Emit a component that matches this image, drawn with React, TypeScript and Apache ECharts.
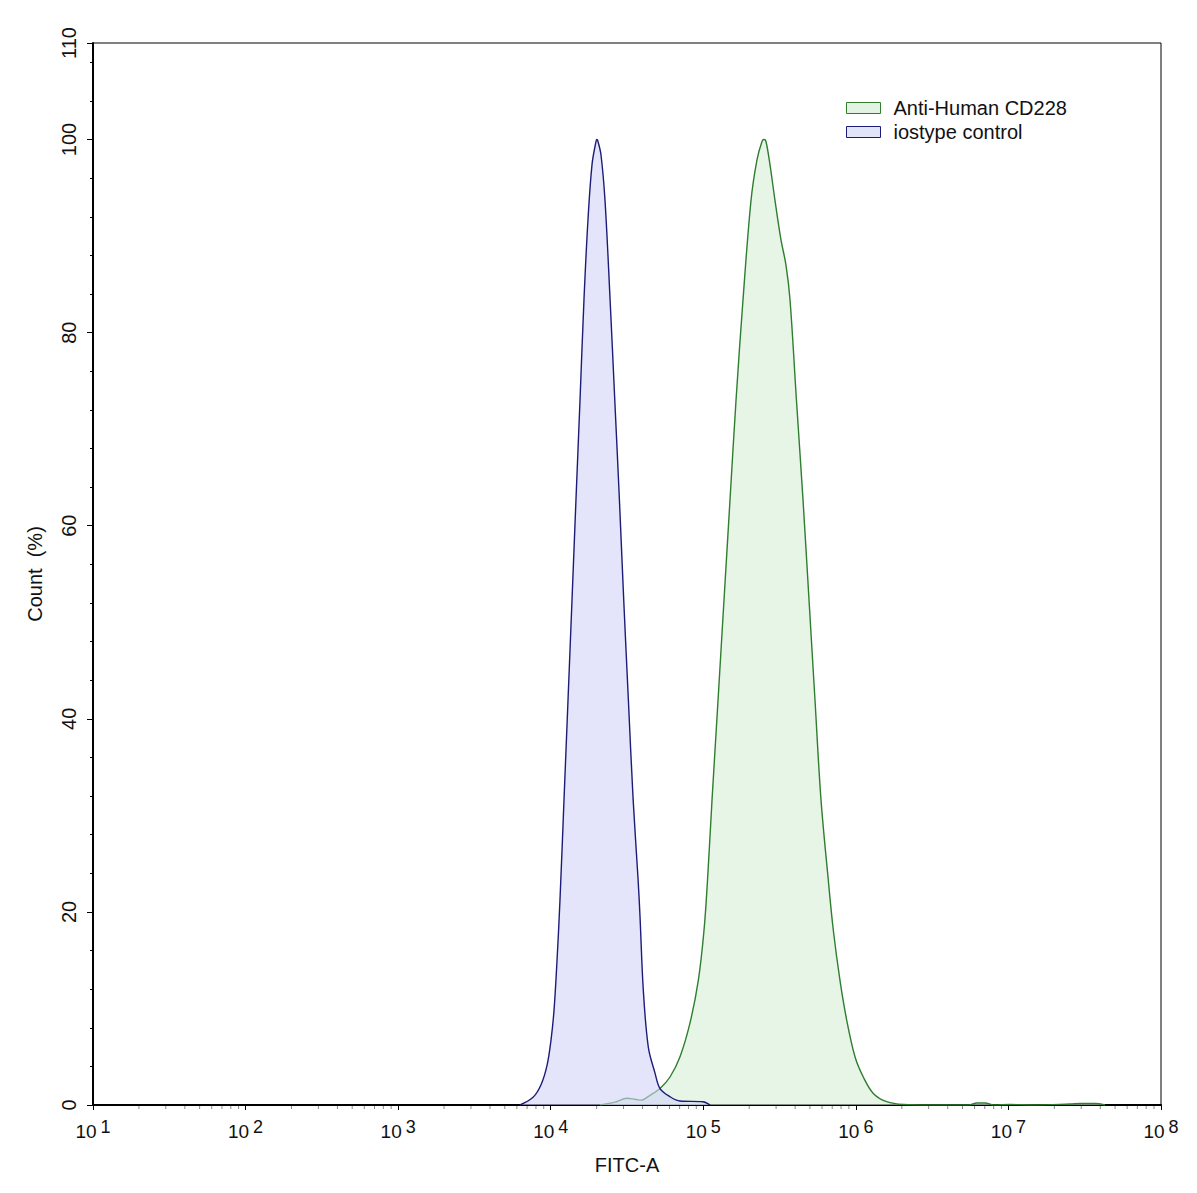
import React, { useEffect, useRef } from "react";
import * as echarts from "echarts";

// isotype control (FITC-A value, count %)
const isoX = [6290, 7660, 8640, 9460, 10040, 10510, 11000, 11500, 12220, 12980, 13790, 14640, 15560, 16520, 17550, 18650, 19810, 20100, 20410, 21360, 22690, 24500, 26300, 28200, 30100, 32300, 34700, 37400, 38490, 40450, 43620, 48270, 52030, 60500, 70390, 99560, 110700];
const isoY = [0, 0.8, 2.1, 4.1, 6.7, 9.8, 15.0, 21.2, 31.6, 41.9, 52.3, 62.7, 73.0, 83.4, 91.7, 97.4, 99.8, 100, 99.8, 98.4, 93.7, 83.4, 73.0, 62.7, 52.3, 41.9, 31.6, 23.3, 19.5, 11.9, 6.0, 3.3, 1.7, 0.86, 0.41, 0.34, 0];

// Anti-Human CD228
const cdX = [21040, 26390, 31620, 35670, 38990, 44740, 52030, 60500, 70390, 81850, 92770, 101100, 106600, 114100, 124900, 136700, 149700, 163900, 182100, 205500, 224900, 242600, 250000, 257600, 273600, 295100, 323100, 348400, 370200, 408000, 450400, 493200, 539900, 591000, 659700, 711700, 787000, 870800, 987000, 1119000, 1301000, 1592000, 2046000, 3060000, 5500000, 6220000, 7020000, 8000000, 10240000, 15000000, 25300000, 30000000, 36900000, 43000000];
const cdY = [0, 0.3, 0.7, 0.6, 0.5, 1.0, 1.7, 2.9, 5.0, 8.5, 12.9, 18.1, 23.3, 31.6, 41.9, 52.3, 62.7, 73.0, 83.4, 93.7, 97.9, 99.8, 100, 99.8, 97.4, 93.7, 89.6, 87.0, 83.4, 73.0, 62.7, 52.3, 41.9, 31.6, 23.3, 18.1, 12.9, 8.8, 5.0, 2.9, 1.2, 0.34, 0.05, 0, 0, 0.2, 0.2, 0, 0.05, 0, 0.1, 0.15, 0.15, 0];

const seriesNames = ["Anti-Human CD228", "iostype control"];
const xMin = 10;
const xMax = 1e8;
const yMax = 110;
const yMajorStep = 20;
const yMinorStep = 4;
// minor log ticks: 2..9 x each decade
const minorMultipliers = [2, 3, 4, 5, 6, 7, 8, 9];
const decades = [1, 2, 3, 4, 5, 6, 7];

const FONT = "Liberation Sans, Arial, sans-serif";

export default function App() {
  const ref = useRef<HTMLDivElement>(null);
  useEffect(() => {
    if (!ref.current) return;
    const chart = echarts.init(ref.current, undefined, { renderer: "svg" });
    const minorTicks: number[][] = [];
    decades.forEach((d) => minorMultipliers.forEach((m) => minorTicks.push([m * Math.pow(10, d), 0])));
    const green = "#2f7d2f";
    const greenFill = "rgba(214,238,214,0.6)";
    const blue = "#1c1c78";
    const blueFill = "rgba(210,212,246,0.6)";
    chart.setOption({
      animation: false,
      backgroundColor: "#ffffff",
      textStyle: { fontFamily: FONT },
      grid: { left: 93, right: 36, top: 43, bottom: 88, show: true, borderColor: "#000", borderWidth: 1, backgroundColor: "transparent" },
      legend: {
        orient: "vertical",
        left: 841,
        top: 93,
        itemWidth: 34,
        itemHeight: 11,
        itemGap: 4,
        icon: "rect",
        textStyle: { fontSize: 20, color: "#111", fontFamily: FONT, padding: [0, 0, 0, 8] },
        data: [
          { name: seriesNames[0], itemStyle: { color: "#e3f3e3", borderColor: green, borderWidth: 1 } },
          { name: seriesNames[1], itemStyle: { color: "#e2e4fa", borderColor: blue, borderWidth: 1 } },
        ],
      },
      xAxis: {
        type: "log",
        logBase: 10,
        min: xMin,
        max: xMax,
        splitNumber: 7,
        name: "FITC-A",
        nameLocation: "middle",
        nameGap: 50,
        nameTextStyle: { fontSize: 20, color: "#111", fontFamily: FONT },
        axisLine: { lineStyle: { color: "#000", width: 2 } },
        axisTick: { show: true, length: 5, lineStyle: { color: "#000", width: 1 } },
        splitLine: { show: false },
        axisLabel: {
          margin: 12,
          formatter: (v: number) => `{b|10}{s|${Math.round(Math.log10(v))}}`,
          rich: {
            b: { fontSize: 19, color: "#111", fontFamily: FONT, padding: [5, 0, 0, 0] },
            s: { fontSize: 18, color: "#111", fontFamily: FONT, padding: [0, 0, 5, 4] },
          },
        },
      },
      yAxis: [
        {
          type: "value",
          min: 0,
          max: yMax,
          interval: yMajorStep,
          name: "Count  (%)",
          nameLocation: "middle",
          nameRotate: 90,
          nameGap: 48,
          nameTextStyle: { fontSize: 20, color: "#111", fontFamily: FONT },
          axisLine: { show: true, lineStyle: { color: "#000", width: 2 } },
          axisTick: { show: true, length: 6, lineStyle: { color: "#000", width: 1 } },
          splitLine: { show: false },
          axisLabel: { rotate: 90, margin: 14, fontSize: 20, color: "#111", fontFamily: FONT, align: "center", verticalAlign: "bottom" },
        },
        {
          type: "value",
          min: 0,
          max: yMax,
          interval: yMinorStep,
          position: "left",
          axisLine: { show: false },
          axisTick: { show: true, length: 3, lineStyle: { color: "#000", width: 1 } },
          axisLabel: { show: false },
          splitLine: { show: false },
        },
      ],
      series: [
        {
          name: seriesNames[0],
          type: "line",
          data: cdX.map((x, i) => [x, cdY[i]]),
          smooth: 0.35,
          symbol: "none",
          lineStyle: { color: green, width: 1.4 },
          itemStyle: { color: green },
          areaStyle: { color: greenFill, opacity: 1 },
          z: 2,
        },
        {
          name: seriesNames[1],
          type: "line",
          data: isoX.map((x, i) => [x, isoY[i]]),
          smooth: 0.35,
          symbol: "none",
          lineStyle: { color: blue, width: 1.4 },
          itemStyle: { color: blue },
          areaStyle: { color: blueFill, opacity: 1 },
          z: 3,
        },
        {
          type: "custom",
          silent: true,
          clip: false,
          data: minorTicks,
          renderItem: (params: any, api: any) => {
            const p = api.coord([api.value(0), 0]);
            return {
              type: "line",
              shape: { x1: p[0], y1: p[1] + 1, x2: p[0], y2: p[1] + 4 },
              style: { stroke: "#888", lineWidth: 1 },
            };
          },
          z: 1,
        },
      ],
    });
    return () => chart.dispose();
  }, []);
  return <div ref={ref} style={{ width: 1197, height: 1193, position: "absolute", left: 0, top: 0 }} />;
}
